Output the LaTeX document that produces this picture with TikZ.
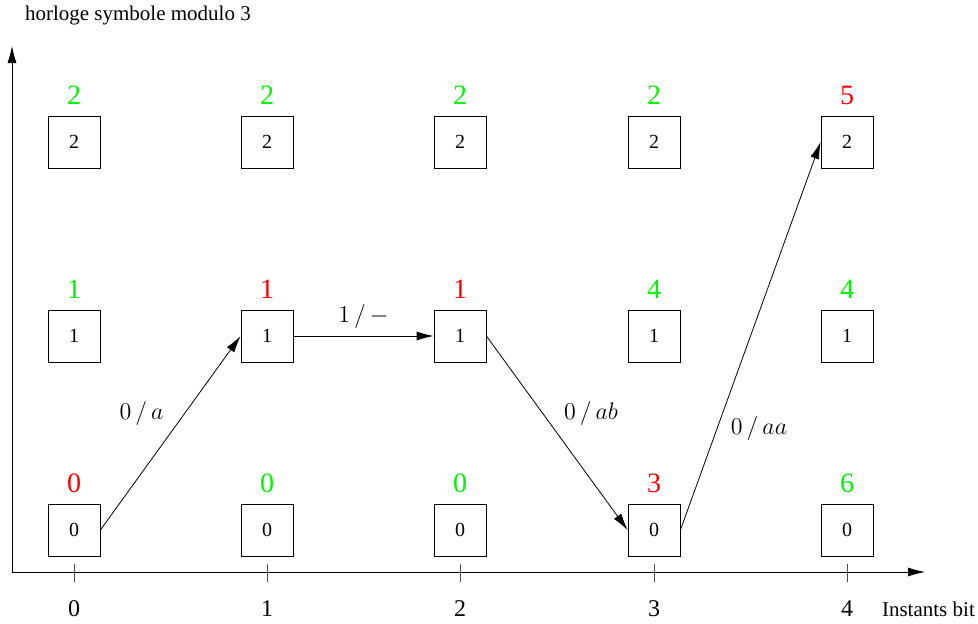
\documentclass[tikz,border=0pt]{standalone}
\usepackage{fontspec}
\setmainfont{Liberation Serif}
\usetikzlibrary{arrows.meta}
\definecolor{vert}{RGB}{0,245,0}
\definecolor{rouge}{RGB}{255,0,0}
\begin{document}
\begin{tikzpicture}[x=0.5pt,y=0.5pt,
	etat/.style={draw,minimum size=26pt,inner sep=0pt,font=\fontsize{10}{12}\selectfont},
	cv/.style={label distance=2pt,text=vert,font=\fontsize{14}{16}\selectfont},
	cr/.style={label distance=2pt,text=rouge,font=\fontsize{14}{16}\selectfont},
	fl/.style={-{Latex[length=8.5pt,width=4.5pt]}},
	lab/.style={font=\fontsize{12}{14}\selectfont}]
	\useasboundingbox (0,0) rectangle (978,623);
	% axes
	\coordinate (O) at (12,51);
	\coordinate (xmax) at (925,51);
	\coordinate (ymax) at (12,577);
	\draw[fl] (O) -- (xmax);
	\draw[fl] (O) -- (ymax);
	\node[anchor=west,font=\fontsize{10.5}{12}\selectfont] (titre) at (18,608) {horloge symbole modulo 3};
	\node[anchor=west,font=\fontsize{10.5}{12}\selectfont] (instants) at (875,14) {Instants bit};
	\draw[black!70] (74,41) -- (74,59) (267,41) -- (267,59) (460,41) -- (460,59) (654,41) -- (654,59) (847,41) -- (847,59);
	\node[font=\fontsize{12}{14}\selectfont] (t0) at (74,14) {0};
	\node[font=\fontsize{12}{14}\selectfont] (t1) at (267,14) {1};
	\node[font=\fontsize{12}{14}\selectfont] (t2) at (460,14) {2};
	\node[font=\fontsize{12}{14}\selectfont] (t3) at (654,14) {3};
	\node[font=\fontsize{12}{14}\selectfont] (t4) at (847,14) {4};
	% etats
	\node[etat,label={[cr]above:0}] (e00) at (74,93) {0};
	\node[etat,label={[cv]above:1}] (e01) at (74,287) {1};
	\node[etat,label={[cv]above:2}] (e02) at (74,481) {2};
	\node[etat,label={[cv]above:0}] (e10) at (267,93) {0};
	\node[etat,label={[cr]above:1}] (e11) at (267,287) {1};
	\node[etat,label={[cv]above:2}] (e12) at (267,481) {2};
	\node[etat,label={[cv]above:0}] (e20) at (460,93) {0};
	\node[etat,label={[cr]above:1}] (e21) at (460,287) {1};
	\node[etat,label={[cv]above:2}] (e22) at (460,481) {2};
	\node[etat,label={[cr]above:3}] (e30) at (654,93) {0};
	\node[etat,label={[cv]above:4}] (e31) at (654,287) {1};
	\node[etat,label={[cv]above:2}] (e32) at (654,481) {2};
	\node[etat,label={[cv]above:6}] (e40) at (847,93) {0};
	\node[etat,label={[cv]above:4}] (e41) at (847,287) {1};
	\node[etat,label={[cr]above:5}] (e42) at (847,481) {2};
	% transitions
	\draw[fl] (e00.east) -- node[lab,midway,above left] {$0\,/\,a$} (e11.west);
	\draw[fl] (e11.east) -- node[lab,midway,above] {$1\,/\,-$} (e21.west);
	\draw[fl] (e21.east) -- node[lab,midway,above right] {$0\,/\,ab$} (e30.west);
	\draw[fl] (e30.east) -- node[lab,pos=0.31,below right] {$0\,/\,aa$} (e42.west);
\end{tikzpicture}
\end{document}
